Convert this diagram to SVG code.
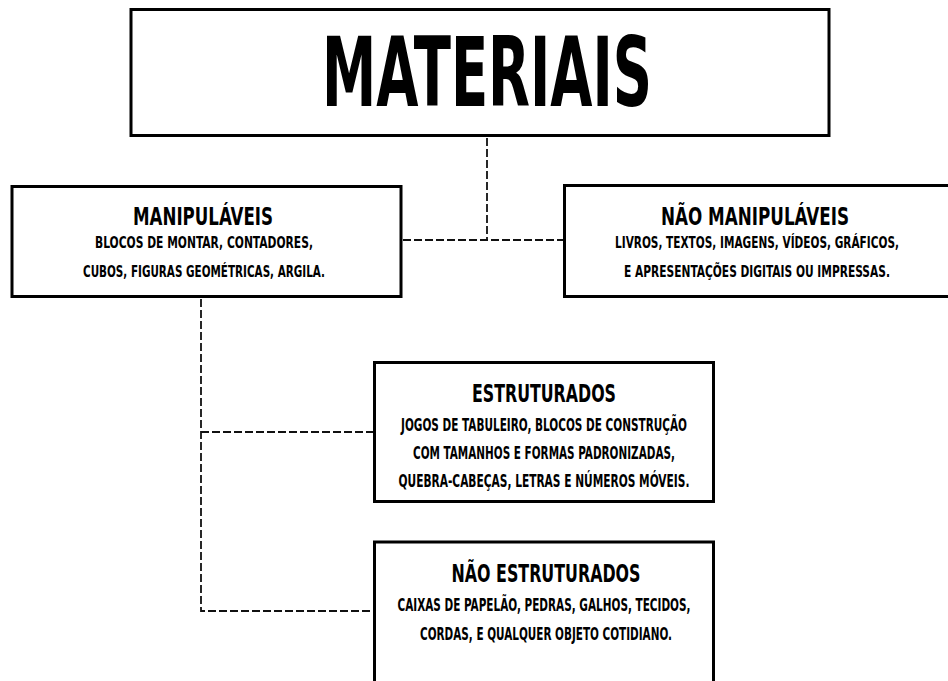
<svg xmlns="http://www.w3.org/2000/svg" width="948" height="681" viewBox="0 0 948 681">
<style>
.box{fill:#fff;stroke:#000;stroke-width:3}
.conn{fill:none;stroke:#111;stroke-width:1.8;stroke-dasharray:8 3}
text{font-family:"DejaVu Sans Condensed","Liberation Sans Narrow","Liberation Sans",sans-serif;font-weight:bold;fill:#000;text-anchor:middle}
.big{font-size:96px}
.ttl{font-size:25px}
.sm{font-size:15px}
.md{font-size:17px}
</style>
<rect width="948" height="681" fill="#fff"/>
<g id="connectors">
<path class="conn" d="M487,138 V240 M403,240 H563"/>
<path class="conn" d="M201,299 V611 H373 M201,432 H373"/>
</g>
<g id="materiais">
<rect class="box" x="131" y="9.5" width="698" height="126"/>
<text class="big" x="487" y="106" textLength="330" lengthAdjust="spacingAndGlyphs">MATERIAIS</text>
</g>
<g id="manipulaveis">
<rect class="box" x="12" y="186.5" width="389" height="110"/>
<text class="ttl" x="203" y="225" textLength="140" lengthAdjust="spacingAndGlyphs">MANIPULÁVEIS</text>
<text class="sm" x="204" y="248" textLength="218" lengthAdjust="spacingAndGlyphs">BLOCOS DE MONTAR, CONTADORES,</text>
<text class="sm" x="204" y="277" textLength="242" lengthAdjust="spacingAndGlyphs">CUBOS, FIGURAS GEOMÉTRICAS, ARGILA.</text>
</g>
<g id="nao-manipulaveis">
<rect class="box" x="564.5" y="185.5" width="385" height="111"/>
<text class="ttl" x="755" y="225" textLength="188" lengthAdjust="spacingAndGlyphs">NÃO MANIPULÁVEIS</text>
<text class="sm" x="757" y="248" textLength="284" lengthAdjust="spacingAndGlyphs">LIVROS, TEXTOS, IMAGENS, VÍDEOS, GRÁFICOS,</text>
<text class="sm" x="757" y="277" textLength="266" lengthAdjust="spacingAndGlyphs">E APRESENTAÇÕES DIGITAIS OU IMPRESSAS.</text>
</g>
<g id="estruturados">
<rect class="box" x="374.5" y="362.5" width="339" height="139"/>
<text class="ttl" x="544" y="402" textLength="144" lengthAdjust="spacingAndGlyphs">ESTRUTURADOS</text>
<text class="md" x="544" y="431" textLength="286" lengthAdjust="spacingAndGlyphs">JOGOS DE TABULEIRO, BLOCOS DE CONSTRUÇÃO</text>
<text class="md" x="544" y="459" textLength="262" lengthAdjust="spacingAndGlyphs">COM TAMANHOS E FORMAS PADRONIZADAS,</text>
<text class="md" x="544" y="487" textLength="291" lengthAdjust="spacingAndGlyphs">QUEBRA-CABEÇAS, LETRAS E NÚMEROS MÓVEIS.</text>
</g>
<g id="nao-estruturados">
<rect class="box" x="374.5" y="542" width="339" height="160"/>
<text class="ttl" x="546" y="582" textLength="189" lengthAdjust="spacingAndGlyphs">NÃO ESTRUTURADOS</text>
<text class="md" x="544" y="611" textLength="293" lengthAdjust="spacingAndGlyphs">CAIXAS DE PAPELÃO, PEDRAS, GALHOS, TECIDOS,</text>
<text class="md" x="546" y="640" textLength="252" lengthAdjust="spacingAndGlyphs">CORDAS, E QUALQUER OBJETO COTIDIANO.</text>
</g>
</svg>
